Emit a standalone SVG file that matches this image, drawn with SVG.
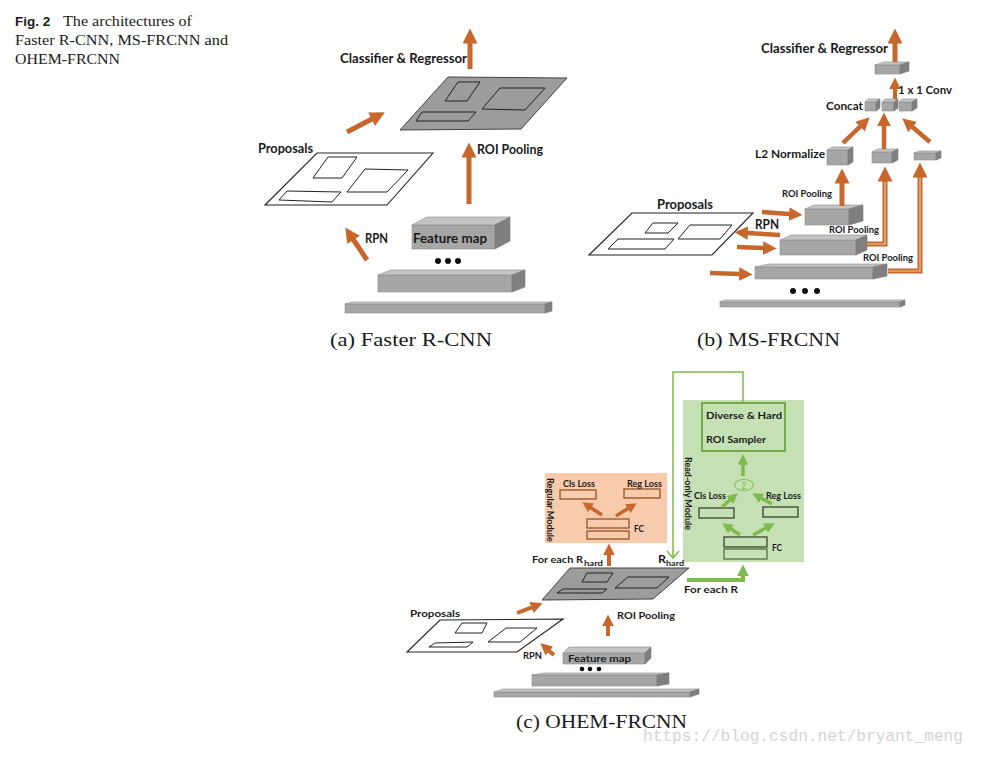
<svg xmlns="http://www.w3.org/2000/svg" width="985" height="760" viewBox="0 0 985 760">
<defs>
<style>
.lb{font-family:Lato,"Liberation Sans",sans-serif;font-weight:bold;fill:#1a1a1a}
.cap{font-family:"Liberation Serif","DejaVu Serif",serif;fill:#1a1a1a}
.fr{fill:#a6a6a6;stroke:#8c8c8c;stroke-width:0.6}
.tp{fill:#c4c4c4;stroke:#8c8c8c;stroke-width:0.6}
.sd{fill:#7f7f7f;stroke:#7a7a7a;stroke-width:0.6}
.gp{fill:#9c9c9c;stroke:#444;stroke-width:1}
.wp{fill:#fff;stroke:#222;stroke-width:1.1}
.ir{fill:none;stroke:#222;stroke-width:1}
.oa{stroke:#c8662b;fill:none;marker-end:url(#ho)}
.ga{stroke:#7dbb4c;fill:none;marker-end:url(#hg)}
.orr{fill:none;stroke:#843c0c;stroke-width:1.1}
.grr{fill:none;stroke:#1f2a17;stroke-width:1.1}
</style>
<marker id="ho" viewBox="0 0 3 3" refX="0.1" refY="1.5" markerWidth="3" markerHeight="3" orient="auto" markerUnits="strokeWidth"><path d="M0,0L3,1.5L0,3z" fill="#c8662b"/></marker>
<marker id="hg" viewBox="0 0 3 3" refX="0.1" refY="1.5" markerWidth="3" markerHeight="3" orient="auto" markerUnits="strokeWidth"><path d="M0,0L3,1.5L0,3z" fill="#7dbb4c"/></marker>
</defs>
<rect width="985" height="760" fill="#fff"/>

<g id="caption">
<text x="15" y="26" font-family="Liberation Sans,sans-serif" font-weight="bold" font-size="13.5" fill="#1a1a1a">Fig. 2</text>
<text x="63" y="26" class="cap" font-size="15.5" textLength="129" lengthAdjust="spacingAndGlyphs">The architectures of</text>
<text x="15" y="45" class="cap" font-size="15.5" textLength="213" lengthAdjust="spacingAndGlyphs">Faster R-CNN, MS-FRCNN and</text>
<text x="15" y="64" class="cap" font-size="15.5" textLength="105" lengthAdjust="spacingAndGlyphs">OHEM-FRCNN</text>
</g>

<!-- ================= Panel (a) ================= -->
<g id="a-bar">
<rect class="fr" x="345" y="304" width="200" height="9"/>
<polygon class="tp" points="345,304 352,302 552,302 545,304"/>
<polygon class="sd" points="545,304 552,302 552,311 545,313"/>
</g>
<g id="a-box2">
<rect class="fr" x="378" y="275" width="134" height="17"/>
<polygon class="tp" points="378,275 391,270 525,270 512,275"/>
<polygon class="sd" points="512,275 525,270 525,287 512,292"/>
</g>
<g id="a-dots" fill="#111">
<circle cx="438" cy="261" r="3"/><circle cx="448" cy="261" r="3"/><circle cx="458" cy="261" r="3"/>
</g>
<g id="a-featuremap">
<rect class="fr" x="412" y="225" width="83" height="24"/>
<polygon class="tp" points="412,225 427,217 510,217 495,225"/>
<polygon class="sd" points="495,225 510,217 510,241 495,249"/>
<text class="lb" x="413" y="243" font-size="14" textLength="74" lengthAdjust="spacingAndGlyphs">Feature map</text>
</g>
<g id="a-proposals">
<polygon class="wp" points="265,205 317,153 433,153 387,205"/>
<polygon class="ir" points="313,178 328,157 357,157 342,178"/>
<polygon class="ir" points="347,192 365,169 408,170 387,192"/>
<polygon class="ir" points="279,200 287,191 341,192 332,202"/>
<text class="lb" x="258" y="153" font-size="14" textLength="55" lengthAdjust="spacingAndGlyphs">Proposals</text>
</g>
<g id="a-roi">
<polygon class="gp" points="400,130 448,77 567,78 521,129"/>
<polygon class="ir" points="445,101 458,82 480,82 467,101"/>
<polygon class="ir" points="482,109 500,88 545,88 525,110"/>
<polygon class="ir" points="416,121 422,112 476,112 468,121"/>
</g>
<g id="a-labels">
<text class="lb" x="340" y="63" font-size="14" textLength="127" lengthAdjust="spacingAndGlyphs">Classifier &amp; Regressor</text>
<text class="lb" x="477" y="154" font-size="14" textLength="66" lengthAdjust="spacingAndGlyphs">ROI Pooling</text>
<text class="lb" x="365" y="243" font-size="14" textLength="23" lengthAdjust="spacingAndGlyphs">RPN</text>
</g>
<g id="a-connectors">
<line class="oa" stroke-width="5" x1="470" y1="69" x2="470" y2="43"/>
<line class="oa" stroke-width="5" x1="347" y1="132" x2="372" y2="119"/>
<line class="oa" stroke-width="5" x1="469" y1="204" x2="469" y2="157"/>
<line class="oa" stroke-width="5" x1="367" y1="260" x2="353.3" y2="239.5"/>
</g>
<text class="cap" x="330" y="346" font-size="18" textLength="162" lengthAdjust="spacingAndGlyphs">(a) Faster R-CNN</text>

<!-- ================= Panel (b) ================= -->
<g id="b-bar">
<rect class="fr" x="720" y="302" width="180" height="5"/>
<polygon class="tp" points="720,302 725,300 905,300 900,302"/>
<polygon class="sd" points="900,302 905,300 905,305 900,307"/>
</g>
<g id="b-dots" fill="#111">
<circle cx="793" cy="291" r="3"/><circle cx="805" cy="291" r="3"/><circle cx="817" cy="291" r="3"/>
</g>
<g id="b-conv3">
<rect class="fr" x="755" y="267" width="118" height="12"/>
<polygon class="tp" points="755,267 769,264 887,264 873,267"/>
<polygon class="sd" points="873,267 887,264 887,276 873,279"/>
</g>
<g id="b-conv2">
<rect class="fr" x="780" y="240" width="76" height="15"/>
<polygon class="tp" points="780,240 791,235 867,235 856,240"/>
<polygon class="sd" points="856,240 867,235 867,250 856,255"/>
</g>
<g id="b-conv1">
<rect class="fr" x="805" y="209" width="44" height="16"/>
<polygon class="tp" points="805,209 814,205 863,205 849,209"/>
<polygon class="sd" points="849,209 863,205 863,221 849,225"/>
</g>
<g id="b-proposals">
<polygon class="wp" points="589,255 632,213 753,213 712,255"/>
<polygon class="ir" points="645,233 653,223 678,223 668,233"/>
<polygon class="ir" points="678,239 690,225 732,225 720,239"/>
<polygon class="ir" points="608,249 618,239 674,239 665,249"/>
<text class="lb" x="657" y="209" font-size="13" textLength="56" lengthAdjust="spacingAndGlyphs">Proposals</text>
</g>
<g id="b-l2">
<rect class="fr" x="827" y="150" width="21" height="15"/>
<polygon class="tp" points="827,150 832,147 853,147 848,150"/>
<polygon class="sd" points="848,150 853,147 853,162 848,165"/>
</g>
<g id="b-pool2">
<rect class="fr" x="872" y="152" width="20" height="11"/>
<polygon class="tp" points="872,152 878,149 898,149 892,152"/>
<polygon class="sd" points="892,152 898,149 898,160 892,163"/>
</g>
<g id="b-pool3">
<rect class="fr" x="914" y="153" width="22" height="7"/>
<polygon class="tp" points="914,153 919,151 941,151 936,153"/>
<polygon class="sd" points="936,153 941,151 941,158 936,160"/>
</g>
<g id="b-concat">
<rect class="fr" x="865" y="102" width="11" height="9"/>
<polygon class="tp" points="865,102 868,99 880,99 876,102"/>
<polygon class="sd" points="876,102 880,99 880,108 876,111"/>
<rect class="fr" x="882" y="102" width="12" height="9"/>
<polygon class="tp" points="882,102 885,99 898,99 894,102"/>
<polygon class="sd" points="894,102 898,99 898,108 894,111"/>
<rect class="fr" x="899" y="102" width="13" height="9"/>
<polygon class="tp" points="899,102 902,99 917,99 912,102"/>
<polygon class="sd" points="912,102 917,99 917,108 912,111"/>
</g>
<g id="b-conv1x1">
<rect class="fr" x="875" y="65" width="25" height="9"/>
<polygon class="tp" points="875,65 884,62 909,62 900,65"/>
<polygon class="sd" points="900,65 909,62 909,71 900,74"/>
</g>
<g id="b-labels">
<text class="lb" x="761" y="53" font-size="13" textLength="127" lengthAdjust="spacingAndGlyphs">Classifier &amp; Regressor</text>
<text class="lb" x="898" y="94" font-size="11" textLength="54" lengthAdjust="spacingAndGlyphs">1 x 1 Conv</text>
<text class="lb" x="826" y="110" font-size="11" textLength="37" lengthAdjust="spacingAndGlyphs">Concat</text>
<text class="lb" x="755" y="158" font-size="11" textLength="70" lengthAdjust="spacingAndGlyphs">L2 Normalize</text>
<text class="lb" x="782" y="197" font-size="9" textLength="50" lengthAdjust="spacingAndGlyphs">ROI Pooling</text>
<text class="lb" x="829" y="233" font-size="9" textLength="50" lengthAdjust="spacingAndGlyphs">ROI Pooling</text>
<text class="lb" x="863" y="261" font-size="9" textLength="50" lengthAdjust="spacingAndGlyphs">ROI Pooling</text>
<text class="lb" x="755" y="229" font-size="13" textLength="24" lengthAdjust="spacingAndGlyphs">RPN</text>
</g>
<g id="b-connectors">
<line class="oa" stroke-width="5" x1="895" y1="62" x2="895" y2="43"/>
<line class="oa" stroke-width="4" x1="895" y1="99" x2="895" y2="89"/>
<line class="oa" stroke-width="4.5" x1="843" y1="143" x2="860.3" y2="126.4"/>
<line class="oa" stroke-width="4.5" x1="884" y1="149" x2="884" y2="125.5"/>
<line class="oa" stroke-width="4.5" x1="930" y1="142" x2="912.2" y2="126.8"/>
<line class="oa" stroke-width="5" x1="842" y1="206" x2="842" y2="183"/>
<line class="oa" stroke-width="4.5" x1="762" y1="212" x2="789.5" y2="214"/>
<line class="oa" stroke-width="4.5" x1="780" y1="235" x2="747.5" y2="233"/>
<line class="oa" stroke-width="4.5" x1="737" y1="247" x2="763.5" y2="248"/>
<line class="oa" stroke-width="4.5" x1="710" y1="273" x2="739.5" y2="274"/>
<polyline class="oa" stroke-width="5" points="867,244 885,244 885,181"/>
<polyline fill="none" stroke="#f2c7a4" stroke-width="1.2" points="867,244 885,244 885,182"/>
<polyline class="oa" stroke-width="5" points="888,271 920,271 920,177"/>
<polyline fill="none" stroke="#f2c7a4" stroke-width="1.2" points="888,271 920,271 920,178"/>
</g>
<text class="cap" x="697" y="346" font-size="18" textLength="143" lengthAdjust="spacingAndGlyphs">(b) MS-FRCNN</text>

<!-- ================= Panel (c) ================= -->
<g id="c-regular">
<rect x="545" y="473" width="122" height="70" fill="#f8cbad"/>
<text class="lb" transform="translate(547,478) rotate(90)" font-size="9.5" textLength="64" lengthAdjust="spacingAndGlyphs">Regular Module</text>
<text class="lb" x="563" y="487" font-size="8.5" textLength="32" lengthAdjust="spacingAndGlyphs">Cls Loss</text>
<text class="lb" x="627" y="487" font-size="8.5" textLength="35" lengthAdjust="spacingAndGlyphs">Reg Loss</text>
<rect class="orr" x="560" y="490" width="36" height="9"/>
<rect class="orr" x="624" y="489" width="36" height="9"/>
<rect class="orr" x="587" y="519" width="42" height="9"/>
<rect class="orr" x="587" y="531" width="42" height="8"/>
<text class="lb" x="634" y="532" font-size="9" textLength="10" lengthAdjust="spacingAndGlyphs">FC</text>
</g>
<g id="c-readonly">
<rect x="683" y="400" width="121" height="162" fill="#c5e0b4"/>
<rect x="702" y="403" width="83" height="48" fill="none" stroke="#70ad47" stroke-width="2"/>
<text class="lb" x="706" y="419" font-size="9.5" textLength="76" lengthAdjust="spacingAndGlyphs">Diverse &amp; Hard</text>
<text class="lb" x="706" y="443" font-size="9.5" textLength="60" lengthAdjust="spacingAndGlyphs">ROI Sampler</text>
<text class="lb" transform="translate(685,457) rotate(90)" font-size="9.5" textLength="73" lengthAdjust="spacingAndGlyphs">Read-only Module</text>
<ellipse cx="744" cy="485" rx="9.5" ry="5.5" fill="none" stroke="#7dbb4c" stroke-width="1"/>
<text x="744" y="488.5" font-family="DejaVu Sans,sans-serif" font-size="8" fill="#7dbb4c" text-anchor="middle">Σ</text>
<text class="lb" x="694" y="499" font-size="8.5" textLength="32" lengthAdjust="spacingAndGlyphs">Cls Loss</text>
<text class="lb" x="766" y="499" font-size="8.5" textLength="35" lengthAdjust="spacingAndGlyphs">Reg Loss</text>
<rect class="grr" x="699" y="508" width="35" height="10"/>
<rect class="grr" x="763" y="507" width="35" height="10"/>
<rect class="grr" x="724" y="537" width="43" height="10"/>
<rect x="724" y="549" width="43" height="10" fill="none" stroke="#3e5a2a" stroke-width="1.1"/>
<text class="lb" x="772" y="551" font-size="9" textLength="10" lengthAdjust="spacingAndGlyphs">FC</text>
</g>
<g id="c-bar">
<rect class="fr" x="494" y="692" width="196" height="5"/>
<polygon class="tp" points="494,692 503,689 699,689 690,692"/>
<polygon class="sd" points="690,692 699,689 699,694 690,697"/>
</g>
<g id="c-box2">
<rect class="fr" x="532" y="675" width="125" height="11"/>
<polygon class="tp" points="532,675 544,673 669,673 657,675"/>
<polygon class="sd" points="657,675 669,673 669,684 657,686"/>
</g>
<g id="c-dots" fill="#111">
<circle cx="582" cy="669" r="2.3"/><circle cx="590" cy="669" r="2.3"/><circle cx="599" cy="669" r="2.3"/>
</g>
<g id="c-featuremap">
<rect class="fr" x="563" y="653" width="82" height="11"/>
<polygon class="tp" points="563,653 569,647 651,647 645,653"/>
<polygon class="sd" points="645,653 651,647 651,658 645,664"/>
<text class="lb" x="568" y="662" font-size="10" textLength="63" lengthAdjust="spacingAndGlyphs">Feature map</text>
</g>
<g id="c-proposals">
<polygon class="wp" points="407,652 440,620 563,619 517,652"/>
<polygon class="ir" points="455,633 462,623 487,623 482,633"/>
<polygon class="ir" points="488,642 506,628 537,628 520,642"/>
<polygon class="ir" points="429,647 435,643 473,642 467,647"/>
<text class="lb" x="410" y="617" font-size="10" textLength="50" lengthAdjust="spacingAndGlyphs">Proposals</text>
</g>
<g id="c-roi">
<polygon class="gp" points="542,600 570,568 689,568 653,599"/>
<polygon class="ir" points="582,582 587,573 613,573 607,582"/>
<polygon class="ir" points="615,588 628,577 669,577 657,588"/>
<polygon class="ir" points="557,593 563,589 607,589 602,593"/>
</g>
<g id="c-labels">
<text class="lb" x="523" y="659" font-size="10" textLength="19" lengthAdjust="spacingAndGlyphs">RPN</text>
<text class="lb" x="617" y="619" font-size="10" textLength="58" lengthAdjust="spacingAndGlyphs">ROI Pooling</text>
<text class="lb" x="532" y="563" font-size="10" textLength="51" lengthAdjust="spacingAndGlyphs">For each R</text>
<text class="lb" x="584" y="566" font-size="8" textLength="19" lengthAdjust="spacingAndGlyphs">hard</text>
<text class="lb" x="658" y="563" font-size="11" textLength="8" lengthAdjust="spacingAndGlyphs">R</text>
<text class="lb" x="666" y="566" font-size="8" textLength="18" lengthAdjust="spacingAndGlyphs">hard</text>
<text class="lb" x="684" y="593" font-size="10" textLength="54" lengthAdjust="spacingAndGlyphs">For each R</text>
</g>
<g id="c-connectors">
<line class="oa" stroke-width="4" x1="517" y1="613" x2="531.8" y2="607.3"/>
<line class="oa" stroke-width="4" x1="554" y1="655" x2="549.1" y2="650.8"/>
<line class="oa" stroke-width="4" x1="608" y1="636" x2="608" y2="626"/>
<line class="oa" stroke-width="4" x1="609" y1="566" x2="609" y2="555"/>
<line class="oa" stroke-width="3.5" x1="602" y1="515" x2="590.8" y2="507.7"/>
<line class="oa" stroke-width="3.5" x1="616" y1="516" x2="628.1" y2="508.5"/>
<line class="ga" stroke-width="3.5" x1="743" y1="476" x2="743" y2="464.5"/>
<line class="ga" stroke-width="3.5" x1="722" y1="507" x2="730.1" y2="499.9"/>
<line class="ga" stroke-width="3.5" x1="772" y1="504" x2="761.2" y2="498.1"/>
<line class="ga" stroke-width="3.5" x1="740" y1="535" x2="730.7" y2="528.8"/>
<line class="ga" stroke-width="3.5" x1="753" y1="535" x2="765.8" y2="528"/>
<polyline class="ga" stroke-width="4" points="687,580 743,580 743,576"/>
<polyline fill="none" stroke="#7dbb4c" stroke-width="1.5" points="743,402 743,372 673,372 673,558"/>
<polyline fill="none" stroke="#7dbb4c" stroke-width="1.5" points="667,551 673,558 679,551"/>
</g>
<text class="cap" x="516" y="728" font-size="18" textLength="171" lengthAdjust="spacingAndGlyphs">(c) OHEM-FRCNN</text>

<text x="643" y="741" font-family="Liberation Mono,monospace" font-size="17" fill="#d4d4d4" textLength="320" lengthAdjust="spacingAndGlyphs">https://blog.csdn.net/bryant_meng</text>
</svg>
